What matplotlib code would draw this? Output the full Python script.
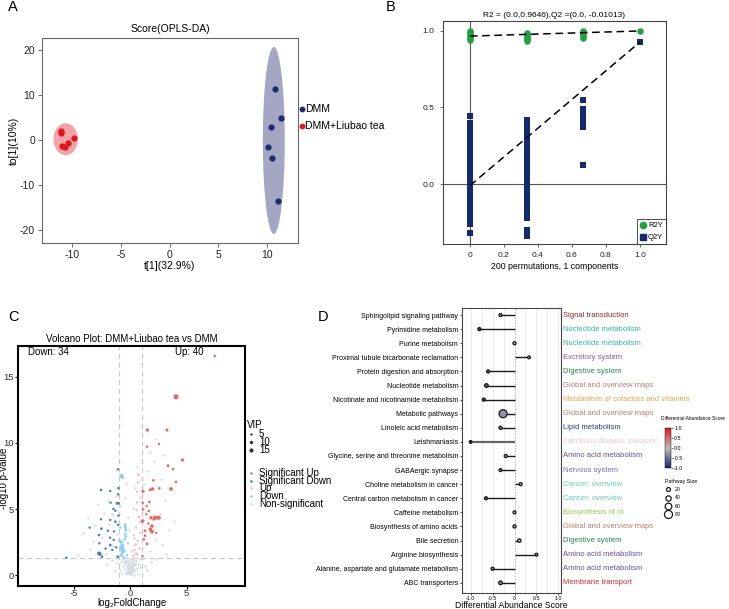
import matplotlib
matplotlib.use("Agg")
import matplotlib.pyplot as plt
import numpy as np
from matplotlib.patches import Ellipse
from matplotlib.colors import LinearSegmentedColormap, Normalize
from matplotlib.cm import ScalarMappable
from matplotlib.lines import Line2D

plt.rcParams['font.family'] = ['Liberation Sans', 'DejaVu Sans']
plt.rcParams['axes.unicode_minus'] = False

W, H = 729, 609
fig = plt.figure(figsize=(W / 100, H / 100), dpi=100)


def ax_px(l, t, r, b, **kw):
    return fig.add_axes([l / W, 1 - b / H, (r - l) / W, (b - t) / H], **kw)


# ---------------- Data ----------------
# Panel A: OPLS-DA scores
dmm_t = [10.86, 11.40, 10.45, 10.11, 10.48, 11.13]
dmm_to = [11.27, 4.82, 2.82, -1.56, -4.0, -13.6]
tea_t = [-11.09, -11.09, -11.02, -10.68, -10.41, -9.80]
tea_to = [2.07, 1.49, -1.33, -1.62, -0.73, 0.44]

# Panel B: permutation test
r2y_x = [0, 0, 0, 0, 0, 0, 0, 0.333, 0.333, 0.333, 0.333, 0.333, 0.333,
         0.667, 0.667, 0.667, 0.667, 0.667, 1.0]
r2y_y = [0.94, 0.95, 0.96, 0.97, 0.98, 0.99, 1.0, 0.935, 0.945, 0.955, 0.965, 0.975, 0.985,
         0.955, 0.965, 0.975, 0.985, 0.995, 0.998]
q2y_x0 = [0.441, 0.396, 0.37, 0.345, 0.32, 0.295, 0.276, 0.265, 0.24, 0.215, 0.19, 0.165,
          0.14, 0.115, 0.09, 0.065, 0.04, 0.015, -0.01, -0.035, -0.06, -0.085, -0.11, -0.13,
          -0.152, -0.177, -0.2, -0.225, -0.25, -0.26, -0.317]
q2y_x1 = [0.42, 0.40, 0.37, 0.345, 0.32, 0.295, 0.27, 0.245, 0.22, 0.195, 0.17, 0.145, 0.12,
          0.095, 0.07, 0.045, 0.02, -0.005, -0.03, -0.055, -0.08, -0.105, -0.13, -0.155,
          -0.18, -0.205, -0.22, -0.30, -0.32, -0.34]
q2y_x2 = [0.548, 0.49, 0.465, 0.44, 0.415, 0.39, 0.37, 0.126]
q2y_x3 = [0.926]
perm_x = [0, 0.333, 0.667, 1.0]
r2_line = [0.9646, 0.998]
q2_line = [-0.01013, 0.926]

# Panel C: volcano
sig_up_x = [7.49, 4.05, 1.51, 3.25, 1.48, 2.54, 4.62, 3.34, 3.79, 2.04, 4.05, 1.78, 1.98, 2.57,
            3.61, 1.12, 1.09, 1.69, 1.45, 1.63, 1.12, 1.42, 1.83, 2.19, 2.51, 1.09, 1.92, 1.30,
            1.78, 1.92, 1.30, 1.48, 1.07, 1.60, 2.30, 1.20, 2.05]
sig_up_y = [16.6, 13.5, 10.98, 10.98, 9.72, 9.92, 8.71, 8.28, 8.03, 7.17, 7.05, 6.46, 6.52, 6.57,
            6.52, 6.34, 5.48, 5.53, 5.23, 4.85, 4.97, 4.60, 4.34, 4.34, 4.34, 4.09, 3.71, 3.36,
            3.46, 3.28, 2.98, 2.35, 1.44, 3.90, 3.20, 2.70, 4.20]
sig_up_vip = [5, 22, 10, 8, 5, 5, 9, 7, 6, 6, 6, 8, 9, 6, 12, 9, 6, 6, 5, 6, 6, 5, 10, 16, 16,
              12, 11, 6, 12, 12, 6, 6, 5, 5, 5, 5, 5]
sig_down_x = [-1.12, -2.60, -1.78, -1.05, -1.09, -1.75, -1.18, -1.04, -1.33, -2.60, -1.78, -1.33,
              -3.61, -2.57, -2.00, -1.45, -2.78, -1.80, -1.48, -2.75, -1.78, -1.25, -2.78, -2.72,
              -2.51, -1.12, -5.68, -1.60, -2.20, -1.10, -1.05, -1.50]
sig_down_y = [8.0, 6.44, 6.36, 6.57, 6.11, 5.48, 5.43, 5.43, 4.87, 4.22, 4.17, 4.04, 3.59, 3.51,
              3.36, 3.30, 3.03, 2.83, 2.65, 2.40, 2.27, 2.10, 1.64, 1.59, 1.39, 1.39, 1.31, 1.90,
              2.00, 3.80, 4.50, 5.00]
sig_down_vip = [5, 6, 5, 6, 5, 5, 7, 6, 5, 5, 5, 6, 5, 6, 5, 5, 6, 5, 5, 5, 6, 5, 12, 12, 6, 6,
                5, 5, 5, 5, 5, 5]
down_x = [-0.78, -0.68, -0.45, -0.45, -0.40, -0.45, -0.40, -0.80, -0.75, -0.85, -0.78, -0.72,
          -0.80, -0.90, -0.95, -0.65, -0.55, -0.30, -0.60, -0.20, -0.70, -0.50]
down_y = [7.5, 7.4, 3.8, 3.6, 3.4, 3.1, 2.9, 2.5, 2.3, 2.1, 1.9, 1.7, 1.5, 3.6, 2.6, 2.2, 1.8,
          1.5, 1.35, 2.4, 2.0, 2.7]
down_vip = [16, 8, 7, 7, 7, 7, 6, 9, 9, 9, 9, 9, 9, 5, 6, 7, 7, 5, 6, 5, 8, 6]
up_x = [0.72, 0.70, 0.60, 0.55, 0.75, 0.85, 0.50, 0.30, 0.65, 0.45, 0.35, 0.55, 0.80, 0.25,
        0.90, 0.60]
up_y = [7.6, 7.0, 5.5, 4.9, 4.4, 4.0, 3.6, 3.0, 2.6, 2.3, 1.9, 1.6, 2.0, 1.45, 3.2, 6.3]
up_vip = [7, 5, 5, 5, 6, 5, 5, 5, 5, 7, 6, 10, 5, 6, 5, 5]
ns_x = [-0.05, 0.10, -0.20, 0.25, -0.35, 0.05, 0.40, -0.15, -0.50, 0.20, 0.55, -0.30, 0.00,
        -0.65, 0.35, -0.10, 0.70, -0.45, 0.15, -0.80, 0.50, -0.25, 0.30, -0.60, 0.85, -0.90,
        0.90, -0.70, 0.65, -0.40, 0.30, -0.15, 0.45, -0.55, 0.10, -1.20, 1.30, -1.60, 1.80,
        -2.10, 2.30, -1.40, 1.50, -0.05, 0.20, -0.35, 0.60, -0.75, 0.00, -0.20,
        -0.12, 0.08, -0.28, 0.18, -0.02, 0.12, -0.22, 0.32, -0.42, 0.02, -0.08, 0.22, -0.18,
        0.06, -0.32, 0.14, -0.06, 0.26, -0.38, 0.04,
        -4.20, -3.30, -3.80, -2.90, -2.30, -2.00, -3.10, -2.50, -1.90, -1.60, -1.30, -1.50,
        -2.20, -3.60, -4.60, -1.20, -0.90, -0.50, -0.20, 0.20, 0.40, 0.60, 1.20, 1.60, 2.10,
        2.90, 2.70, 3.10, 2.60, 3.40, 3.90, 2.80, 2.20, 1.70, 3.20, 1.40, -0.10, 0.30, -0.60,
        0.10, 1.70, 2.30, -0.40, 0.90]
ns_y = [0.05, 0.10, 0.15, 0.20, 0.25, 0.30, 0.35, 0.40, 0.45, 0.50, 0.55, 0.60, 0.65, 0.70,
        0.75, 0.80, 0.85, 0.90, 0.95, 1.00, 1.05, 1.10, 1.15, 1.20, 1.25, 0.35, 0.60, 0.15,
        0.10, 0.05, 0.02, 0.55, 0.85, 1.05, 1.20, 0.90, 0.70, 1.10, 1.00, 0.80, 1.20, 0.30,
        0.40, 0.45, 0.70, 1.00, 1.30, 1.25, 1.00, 0.75,
        0.12, 0.22, 0.32, 0.42, 0.52, 0.62, 0.72, 0.82, 0.92, 0.18, 0.28, 0.38, 0.48, 0.58,
        0.68, 0.78, 0.88, 0.98, 1.08, 1.18,
        3.2, 2.6, 4.3, 5.4, 4.7, 5.6, 3.8, 2.9, 3.9, 4.6, 6.0, 2.2, 1.6, 2.0, 1.5, 3.1, 5.2,
        5.8, 4.4, 5.1, 6.6, 8.2, 6.9, 7.9, 8.6, 9.1, 7.3, 5.7, 4.6, 3.4, 4.1, 2.3, 2.7, 1.8,
        1.6, 2.5, 3.4, 2.8, 2.0, 1.8, 9.3, 10.3, 6.9, 5.9]

# Panel D: differential abundance
pathways = ["Sphingolipid signaling pathway", "Pyrimidine metabolism", "Purine metabolism",
            "Proximal tubule bicarbonate reclamation", "Protein digestion and absorption",
            "Nucleotide metabolism", "Nicotinate and nicotinamide metabolism",
            "Metabolic pathways", "Linoleic acid metabolism", "Leishmaniasis",
            "Glycine, serine and threonine metabolism", "GABAergic synapse",
            "Choline metabolism in cancer", "Central carbon metabolism in cancer",
            "Caffeine metabolism", "Biosynthesis of amino acids", "Bile secretion",
            "Arginine biosynthesis", "Alanine, aspartate and glutamate metabolism",
            "ABC transporters"]
da_score = [-0.32, -0.80, 0.0, 0.33, -0.60, -0.64, -0.70, -0.26, -0.32, -1.0, -0.20, -0.32,
            0.14, -0.65, 0.0, 0.0, 0.11, 0.50, -0.50, -0.32]
pathway_size = [8, 8, 8, 4, 8, 16, 8, 80, 8, 2, 8, 6, 8, 8, 6, 8, 12, 4, 8, 16]
categories = ["Signal transduction", "Nucleotide metabolism", "Nucleotide metabolism",
              "Excretory system", "Digestive system", "Global and overview maps",
              "Metabolism of cofactors and vitamins", "Global and overview maps",
              "Lipid metabolism", "Infectious disease: parasitic", "Amino acid metabolism",
              "Nervous system", "Cancer: overview", "Cancer: overview", "Biosynthesis of ot",
              "Global and overview maps", "Digestive system", "Amino acid metabolism",
              "Amino acid metabolism", "Membrane transport"]
cat_colors = {"Signal transduction": "#9b2424", "Nucleotide metabolism": "#2cb9ad",
              "Excretory system": "#a0509c", "Digestive system": "#1f8a4a",
              "Global and overview maps": "#c27b6c",
              "Metabolism of cofactors and vitamins": "#e3a543",
              "Lipid metabolism": "#2c3a7c", "Infectious disease: parasitic": "#f2c4dc",
              "Amino acid metabolism": "#6a4ca6", "Nervous system": "#7c6ad2",
              "Cancer: overview": "#62d3b4", "Biosynthesis of ot": "#8fcf4a",
              "Membrane transport": "#e0272b"}

ov = fig.add_axes([0, 0, 1, 1], zorder=10)
ov.set_xlim(0, W)
ov.set_ylim(H, 0)
ov.axis('off')
ov.patch.set_alpha(0)

# ---------------- Panel A ----------------
axA = ax_px(42, 38, 298, 243)
axA.add_patch(Ellipse((10.69, -0.1), 2.25, 41.6, facecolor='#a3a7c4', edgecolor='none'))
axA.add_patch(Ellipse((-10.64, 0.2), 2.5, 7.1, facecolor='#f3a3a6', edgecolor='none'))
axA.scatter(dmm_t, dmm_to, s=12, color='#1c2a6e', zorder=3)
axA.scatter(tea_t, tea_to, s=12, color='#e2141c', zorder=3)
axA.set_xlim(-13.07, 13.17)
axA.set_ylim(-22.9, 22.7)
axA.set_xticks([-10, -5, 0, 5, 10])
axA.set_yticks([-20, -10, 0, 10, 20])
axA.tick_params(labelsize=7.5, length=3, width=0.6, color='#555', labelcolor='#222', pad=2)
for s in axA.spines.values():
    s.set_color('#666')
    s.set_linewidth(0.8)
axA.set_title("Score(OPLS-DA)", fontsize=7.5, pad=4)
axA.set_xlabel("t[1](32.9%)", fontsize=7.5, labelpad=1)
axA.set_ylabel("to[1](10%)", fontsize=7.5, labelpad=1)
ov.scatter([302.5], [109], s=10, color='#1c2a6e')
ov.text(305, 109, "DMM", fontsize=7.5, va='center', ha='left')
ov.scatter([302.5], [126], s=10, color='#e2141c')
ov.text(305, 126, "DMM+Liubao tea", fontsize=7.5, va='center', ha='left')

# ---------------- Panel B ----------------
axB = ax_px(442.7, 21, 666, 244)
axB.axhline(0, color='#555', lw=0.8, zorder=1)
axB.axvline(0, color='#555', lw=0.8, zorder=1)
for xv, ys in zip(perm_x, [q2y_x0, q2y_x1, q2y_x2, q2y_x3]):
    axB.scatter([xv] * len(ys), ys, marker='s', s=15, color='#142a6e', zorder=3, linewidths=0)
axB.scatter(r2y_x, r2y_y, marker='o', s=22, color='#1fa23f', zorder=3, linewidths=0)
axB.plot([perm_x[0], perm_x[-1]], r2_line, ls=(0, (5, 3)), color='black', lw=1.1, zorder=4)
axB.plot([perm_x[0], perm_x[-1]], q2_line, ls=(0, (5, 3)), color='black', lw=1.1, zorder=4)
axB.set_xlim(-0.16, 1.153)
axB.set_ylim(-0.391, 1.063)
axB.set_xticks([0, 0.2, 0.4, 0.6, 0.8, 1.0])
axB.set_xticklabels(["0", "0.2", "0.4", "0.6", "0.8", "1.0"])
axB.set_yticks([0, 0.5, 1.0])
axB.set_yticklabels(["0.0", "0.5", "1.0"])
axB.tick_params(labelsize=6, length=2.5, width=0.6, color='#555', labelcolor='#222')
for s in axB.spines.values():
    s.set_color('#444')
    s.set_linewidth(0.8)
axB.set_title("R2 = (0.0,0.9646),Q2 =(0.0, -0.01013)", fontsize=6, pad=3)
axB.set_xlabel("200 permutations, 1 components", fontsize=6.3, labelpad=2)
hB = [Line2D([], [], ls='none', marker='o', color='#1fa23f', markersize=4.5),
      Line2D([], [], ls='none', marker='s', color='#142a6e', markersize=4)]
legB = axB.legend(hB, ["R2Y", "Q2Y"], loc='lower right', fontsize=5.5, frameon=True,
                  fancybox=False, edgecolor='#222', handletextpad=0.1, borderpad=0.35,
                  handlelength=1.0, borderaxespad=0.0, labelspacing=0.6)
legB.get_frame().set_linewidth(0.7)

# ---------------- Panel C ----------------
axC = ax_px(18.3, 345.7, 245, 585.7)


def vsz(v):
    return [0.6 * x for x in v]


axC.scatter(ns_x, ns_y, s=3, color='#d5dbe6', linewidths=0, zorder=2)
axC.scatter(up_x, up_y, s=vsz(up_vip), color='#f7bcc8', linewidths=0, zorder=3)
axC.scatter(down_x, down_y, s=vsz(down_vip), color='#8ccff5', linewidths=0, zorder=3)
axC.scatter(sig_down_x, sig_down_y, s=vsz(sig_down_vip), color='#3f7fbf', linewidths=0, zorder=4)
axC.scatter(sig_up_x, sig_up_y, s=vsz(sig_up_vip), color='#f5645c', linewidths=0, zorder=4)
for xv in (-1, 1):
    axC.axvline(xv, color='#c9c9c9', lw=0.9, ls=(0, (4, 3)), zorder=1)
axC.axhline(-np.log10(0.05), color='#c9c9c9', lw=0.9, ls=(0, (4, 3)), zorder=1)
axC.set_xlim(-9.94, 10.17)
axC.set_ylim(-0.81, 17.37)
axC.set_xticks([-5, 0, 5])
axC.set_yticks([0, 5, 10, 15])
axC.tick_params(labelsize=6.8, length=2, width=0.8, labelcolor='#333', pad=1)
axC.tick_params(axis='x', pad=0.5)
for s in axC.spines.values():
    s.set_color('black')
    s.set_linewidth(1.5)
axC.set_title("Volcano Plot: DMM+Liubao tea vs DMM", fontsize=7, pad=3)
axC.set_xlabel("log\u2082FoldChange", fontsize=7)
axC.set_ylabel("-log10 p-value", fontsize=7)
axC.xaxis.set_label_coords(0.5, -0.071)
axC.yaxis.set_label_coords(-0.064, 0.449)
axC.xaxis.label.set_va('center')
axC.yaxis.label.set_va('center')
axC.text(-9.05, 16.87, "Down: 34", fontsize=7, va='center', ha='left')
axC.text(6.5, 16.87, "Up: 40", fontsize=7, va='center', ha='right')
ov.text(246.7, 425, "VIP", fontsize=7.0, va='center', ha='left')
for yy, v in zip([434.3, 442, 450], [5, 10, 15]):
    ov.scatter([251], [yy], s=0.6 * v, color='#333333', linewidths=0)
    ov.text(259, yy, str(v), fontsize=7.0, va='center', ha='left')
for yy, lab, col in zip([472.7, 480.7, 488, 496, 503.7],
                        ["Significant Up", "Significant Down", "Up", "Down", "Non-significant"],
                        ['#f5645c', '#3f7fbf', '#f7bcc8', '#8ccff5', '#d5dbe6']):
    ov.scatter([251], [yy], s=3.5, color=col, linewidths=0)
    ov.text(259, yy, lab, fontsize=7.0, va='center', ha='left')

# ---------------- Panel D ----------------
axD = ax_px(462.3, 308.3, 561, 592.7)
cmap = LinearSegmentedColormap.from_list("da", ['#1a1f6e', '#bcbcbc', '#e31a1c'])
norm = Normalize(-1, 1)
n = len(pathways)
ypos = [n - 1 - i for i in range(n)]
for xv in [-1.0, -0.75, -0.5, -0.25, 0.25, 0.5, 0.75, 1.0]:
    axD.axvline(xv, color='#e6e6e6', lw=0.6, zorder=0)
axD.axvline(0, color='#aaaaaa', lw=0.8, ls=(0, (1, 1.5)), zorder=1)
for i in range(n):
    lw = 1.6 if pathways[i] == "Leishmaniasis" else 1.0
    col = '#666666' if pathways[i] == "Leishmaniasis" else '#1a1a1a'
    axD.plot([0, da_score[i]], [ypos[i], ypos[i]], color=col, lw=lw, zorder=2,
             solid_capstyle='butt')
sizes = [(2.6 + 0.07 * p) ** 2 * 0.5 for p in pathway_size]
axD.scatter(da_score, ypos, s=sizes, c=da_score, cmap=cmap, norm=norm,
            edgecolors='#1a1a1a', linewidths=0.9, zorder=3)
axD.set_xlim(-1.19, 1.06)
axD.set_ylim(-0.7, n - 0.52)
axD.set_yticks(ypos)
axD.set_yticklabels(pathways, fontsize=5)
axD.set_xticks([-1.0, -0.5, 0, 0.5, 1.0])
axD.set_xticklabels(["-1.0", "-0.5", "0", "0.5", "1.0"])
axD.tick_params(axis='x', labelsize=3.8, length=1.5, width=0.5, pad=1.2)
axD.tick_params(axis='y', length=1.5, width=0.5, pad=1.5)
for s in axD.spines.values():
    s.set_color('#444')
    s.set_linewidth(0.8)
axD.set_xlabel("Differential Abundance Score", fontsize=6.2)
axD.xaxis.set_label_coords(0.5, -0.0435)
axD.xaxis.label.set_va('center')
for i in range(n):
    axD.text(1.02, ypos[i], categories[i], transform=axD.get_yaxis_transform(),
             fontsize=5.5, color=cat_colors[categories[i]], va='center', ha='left')

cax = ax_px(665.3, 428.3, 670.7, 468.3)
cb = fig.colorbar(ScalarMappable(norm=norm, cmap=cmap), cax=cax)
cb.set_ticks([-1.0, -0.5, 0.0, 0.5, 1.0])
cb.ax.tick_params(labelsize=3.8, length=1.5, width=0.4, pad=1)
cb.outline.set_linewidth(0.3)
ov.text(661, 419, "Differential Abundance Score", fontsize=3.5, va='center', ha='left')
ov.text(664.7, 481, "Pathway Size", fontsize=3.8, va='center', ha='left')
for yy, p in zip([489.3, 497.7, 506, 514], [20, 40, 60, 80]):
    ov.scatter([668.5], [yy], s=(2.6 + 0.07 * p) ** 2 * 0.5, facecolor='white',
               edgecolors='#1a1a1a', linewidths=0.9)
    ov.text(675, yy, str(p), fontsize=3.8, va='center', ha='left')

# Panel labels
for lab, x, y in [("A", 8, 7), ("B", 386, 7), ("C", 8, 317), ("D", 318, 317)]:
    ov.text(x, y, lab, fontsize=10.5, va='center', ha='left')

fig.savefig("out.png", dpi=100)
